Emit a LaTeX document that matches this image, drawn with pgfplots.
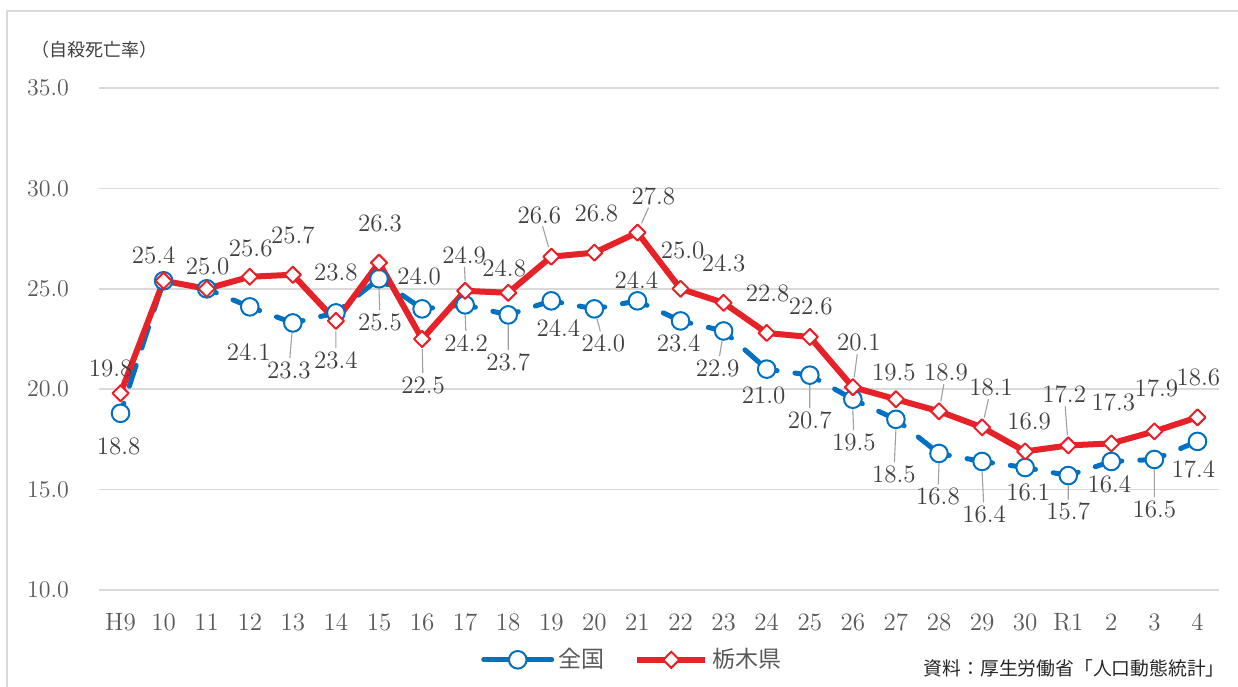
\documentclass[border=0pt]{standalone}
\usepackage{fontspec}
\usepackage{pgfplots}
\pgfplotsset{compat=1.18}
\usepackage{pgfplotstable}
\newfontfamily\jp{Noto Sans CJK JP}
\definecolor{bl}{RGB}{0,112,192}
\definecolor{rd}{RGB}{230,33,39}
\definecolor{gridg}{RGB}{217,217,217}
\definecolor{tickg}{RGB}{89,89,89}
\definecolor{labg}{RGB}{64,64,64}
\definecolor{leadg}{RGB}{160,160,160}

% label shifted by (dx,dy) pixels of the reference (dy downwards)
\protected\def\lab#1#2#3{\smash{\makebox[0pt][c]{\hspace*{#1pt}\raisebox{\dimexpr -#2pt/2-4.2pt\relax}{#3}}}}

\pgfplotsset{
  labels/.style={draw=none, mark=none, forget plot, nodes near coords,
    point meta=explicit symbolic,
    every node near coord/.append style={anchor=center, inner sep=0pt,
      font=\fontsize{12.5}{12.5}\selectfont, text=labg}},
  legend image code/.code={\draw[mark repeat=2, mark phase=2, #1, solid] plot coordinates {(0pt,0pt) (17pt,0pt) (34pt,0pt)};},
  bluemark/.style={mark=*, mark size=4.4pt, mark options={solid, fill=white, draw=bl, line width=1pt}},
  redmark/.style={mark=square*, mark size=2.85pt, mark options={solid, rotate=45, fill=white, draw=rd, line width=1pt}},
}

% red: Tochigi
\pgfplotstableread{
i v lbl
0 19.8 \lab{-10}{-25}{19.8}
1 25.4 \lab{-10}{-26}{25.4}
2 25.0 \lab{1}{-23}{25.0}
3 25.6 \lab{1}{-29}{25.6}
4 25.7 \lab{0}{-40}{25.7}
5 23.4 \lab{0}{39}{23.4}
6 26.3 \lab{1}{-40}{26.3}
7 22.5 \lab{1}{46}{22.5}
8 24.9 \lab{-1}{-36}{24.9}
9 24.8 \lab{-4}{-25}{24.8}
10 26.6 \lab{-12}{-42}{26.6}
11 26.8 \lab{2}{-40}{26.8}
12 27.8 \lab{16}{-36}{27.8}
13 25.0 \lab{2}{-39}{25.0}
14 24.3 \lab{0}{-40}{24.3}
15 22.8 \lab{1}{-40}{22.8}
16 22.6 \lab{1}{-31}{22.6}
17 20.1 \lab{6}{-45}{20.1}
18 19.5 \lab{-2}{-27}{19.5}
19 18.9 \lab{7}{-39}{18.9}
20 18.1 \lab{9}{-40}{18.1}
21 16.9 \lab{4}{-30}{16.9}
22 17.2 \lab{-4}{-51}{17.2}
23 17.3 \lab{2}{-41}{17.3}
24 17.9 \lab{2}{-43}{17.9}
25 18.6 \lab{1}{-40}{18.6}
}\redtab

% blue: national
\pgfplotstableread{
i v lbl
0 18.8 \lab{-2}{33}{18.8}
1 25.4 {}
2 25.0 {}
3 24.1 \lab{-1}{45}{24.1}
4 23.3 \lab{-4}{47}{23.3}
5 23.8 \lab{0}{-41}{23.8}
6 25.5 \lab{1}{43}{25.5}
7 24.0 \lab{-3}{-33}{24.0}
8 24.2 \lab{1}{38}{24.2}
9 23.7 \lab{0}{47}{23.7}
10 24.4 \lab{7}{27}{24.4}
11 24.0 \lab{9}{34}{24.0}
12 24.4 \lab{-1}{-21}{24.4}
13 23.4 \lab{-2}{22}{23.4}
14 22.9 \lab{-6}{37}{22.9}
15 21.0 \lab{-3}{26}{21.0}
16 20.7 \lab{0}{45}{20.7}
17 19.5 \lab{1}{43}{19.5}
18 18.5 \lab{-2}{55}{18.5}
19 16.8 \lab{-1}{43}{16.8}
20 16.4 \lab{2}{53}{16.4}
21 16.1 \lab{3}{25}{16.1}
22 15.7 \lab{0}{36}{15.7}
23 16.4 \lab{-2}{23}{16.4}
24 16.5 \lab{0}{50}{16.5}
25 17.4 \lab{-4}{28}{17.4}
}\bluetab

% blue line drawn segment by segment (dash pattern restarts at each point)
\pgfplotstableread{
x y
0 18.8
1 25.4
nan nan
1 25.4
2 25.0
nan nan
2 25.0
3 24.1
nan nan
3 24.1
4 23.3
nan nan
4 23.3
5 23.8
nan nan
5 23.8
6 25.5
nan nan
6 25.5
7 24.0
nan nan
7 24.0
8 24.2
nan nan
8 24.2
9 23.7
nan nan
9 23.7
10 24.4
nan nan
10 24.4
11 24.0
nan nan
11 24.0
12 24.4
nan nan
12 24.4
13 23.4
nan nan
13 23.4
14 22.9
nan nan
14 22.9
15 21.0
nan nan
15 21.0
16 20.7
nan nan
16 20.7
17 19.5
nan nan
17 19.5
18 18.5
nan nan
18 18.5
19 16.8
nan nan
19 16.8
20 16.4
nan nan
20 16.4
21 16.1
nan nan
21 16.1
22 15.7
nan nan
22 15.7
23 16.4
nan nan
23 16.4
24 16.5
nan nan
24 16.5
25 17.4
}\blueseg

% leader lines (start/end pairs)
\pgfplotstableread{
x y
5 22.902
5 22.055
nan nan
7.005 22.002
7.017 20.807
nan nan
8 25.398
7.984 26.095
nan nan
9.936 27.079
9.798 28.117
nan nan
12.094 28.255
12.258 29.047
nan nan
17.031 20.594
17.102 21.748
nan nan
19.041 19.390
19.113 20.254
nan nan
20.051 18.586
20.148 19.509
nan nan
21.982 17.696
21.929 19.144
nan nan
3.980 22.804
3.931 21.554
nan nan
6.0 25.002
6.017 23.956
nan nan
8 23.702
8.016 22.905
nan nan
9 23.202
9 21.957
nan nan
11.059 23.519
11.138 22.884
nan nan
13.963 22.409
13.905 21.647
nan nan
16 20.202
16 19.057
nan nan
17 19.002
17.017 17.956
nan nan
18 18.002
17.964 16.359
nan nan
19 16.302
18.983 15.256
nan nan
20 15.902
20.036 14.358
nan nan
22 15.202
22 14.505
nan nan
24 16.002
24 14.608
}\leadtab

\begin{document}
\begin{tikzpicture}
\useasboundingbox (-49.5pt,-48pt) rectangle (569.5pt,295pt);
\draw[gridg, line width=1pt] (-46pt,-60pt) -- (-46pt,289.5pt) -- (580pt,289.5pt);
\begin{axis}[
  at={(0pt,0pt)}, anchor=south west,
  scale only axis, width=560pt, height=251pt,
  xmin=-0.5, xmax=25.5, ymin=10, ymax=35,
  xtick={0,...,25},
  xticklabels={H9,10,11,12,13,14,15,16,17,18,19,20,21,22,23,24,25,26,27,28,29,30,R1,2,3,4},
  ytick={10,15,20,25,30,35},
  yticklabel={\pgfmathprintnumber[fixed,fixed zerofill,precision=1]{\tick}},
  major tick length=0pt,
  axis line style={draw=none},
  ymajorgrids,
  major grid style={gridg, line width=0.75pt},
  tick label style={text=tickg, font=\fontsize{12.5}{12.5}\selectfont},
  yticklabel style={anchor=east, xshift=-11.5pt},
  xticklabel style={anchor=center, yshift=-16pt},
  clip=false,
  unbounded coords=jump,
  legend columns=2,
  legend style={at={(0.477,-0.139)}, anchor=center, draw=none, fill=none,
    font=\jp\fontsize{11.5}{13}\selectfont, text=tickg,
    /tikz/every even column/.append style={column sep=13pt}},
]
\addplot[leadg, line width=0.55pt, mark=none, forget plot] table[x=x, y=y]{\leadtab};
\addplot[bl, line width=2.5pt, line cap=round, dash pattern=on 11pt off 9pt, dash phase=5.75pt,
  mark=none, forget plot] table[x=x, y=y]{\blueseg};
\addplot[only marks, bluemark, forget plot] table[x=i, y=v]{\bluetab};
\addplot[rd, line width=3pt, line join=round, redmark, forget plot] table[x=i, y=v]{\redtab};
\addplot[labels] table[x=i, y=v, meta=lbl]{\bluetab};
\addplot[labels] table[x=i, y=v, meta=lbl]{\redtab};
\addlegendimage{bl, line width=2.5pt, line cap=round, bluemark}
\addlegendentry{全国}
\addlegendimage{rd, line width=3pt, redmark}
\addlegendentry{栃木県}
\end{axis}
\node[anchor=west, inner sep=0pt, font=\jp\fontsize{9}{10}\selectfont, text=labg] at (-34pt,270pt) {（自殺死亡率）};
\node[anchor=east, inner sep=0pt, font=\jp\fontsize{9.4}{11}\selectfont, text=black!85] at (563pt,-39pt) {資料：厚生労働省「人口動態統計」};
\end{tikzpicture}
\end{document}
